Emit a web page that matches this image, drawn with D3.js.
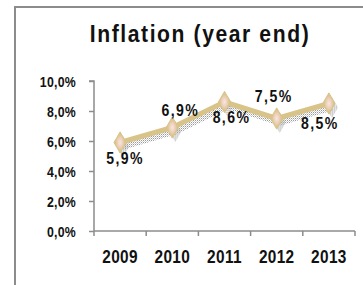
<!DOCTYPE html>
<html>
<head>
<meta charset="utf-8">
<script src="https://cdn.jsdelivr.net/npm/d3@7"></script>
<style>
  body { margin: 0; background: #fff; }
  text { font-family: "Liberation Sans", Arial, sans-serif; font-weight: bold; fill: #111; }
</style>
</head>
<body>
<div class="chart"></div>
<script>
// data
var years = ["2009", "2010", "2011", "2012", "2013"];
var inflation = [5.9, 6.9, 8.6, 7.5, 8.5];
var yTicks = [0, 2, 4, 6, 8, 10];
// label offsets relative to point (dx, dy)
var labelDx = [5, 8, 7, -3, -9];
var labelDy = [21, -12, 21, -17, 25];

var w = 363, h = 285;
var margin = {left: 94, right: 8, top: 81, bottom: 54};
var sx = 0.88; // fake a narrow font

var svg = d3.select(".chart").append("svg")
    .attr("width", w).attr("height", h);

function label(g, px, py, txt, size, spacing) {
    return g.append("text")
        .attr("transform", `translate(${px},${py}) scale(${sx},1)`)
        .attr("text-anchor", "middle")
        .style("font-size", size + "px")
        .style("letter-spacing", spacing + "px")
        .text(txt);
}

// outer frame (only top and left visible)
svg.append("path")
    .attr("d", "M15,285 V7 H363")
    .attr("fill", "none")
    .attr("stroke", "#8c8c8c")
    .attr("stroke-width", 2);

label(svg, 200, 42, "Inflation (year end)", 24, 1.8);

var x = d3.scaleBand().domain(years).range([margin.left, 355]);
var y = d3.scaleLinear().domain([0, 10]).range([231, 81]);

var fmt = function(v){ return d3.format(".1f")(v).replace(".", ",") + "%"; };

// y axis
var yAxis = svg.append("g")
    .attr("transform", `translate(${margin.left},0)`)
    .call(d3.axisLeft(y).tickValues(yTicks).tickSize(5).tickPadding(12).tickFormat(fmt));
yAxis.selectAll("text")
    .attr("transform", `scale(${sx},1)`)
    .attr("x", -18 / sx)
    .attr("dy", "0.36em")
    .style("font-size", "14px")
    .style("letter-spacing", "0.3px");
yAxis.selectAll("line, path").attr("stroke", "#8c8c8c").attr("stroke-width", 1.5);
yAxis.select(".domain").attr("d", `M-5,${y(10)}H0V${y(0)}`);

// x axis with ticks at band edges
var xg = svg.append("g").attr("transform", `translate(0,${y(0)})`);
xg.append("line").attr("x1", margin.left).attr("x2", 355)
    .attr("stroke", "#8c8c8c").attr("stroke-width", 1.5);
var edges = years.map(function(d){ return x(d); }).concat([x.range()[1]]);
xg.selectAll(".tk").data(edges).enter().append("line")
    .attr("x1", d => d).attr("x2", d => d).attr("y1", 0).attr("y2", 5)
    .attr("stroke", "#8c8c8c").attr("stroke-width", 1.5);
years.forEach(function(d){
    label(xg, x(d) + x.bandwidth() / 2, 31.5, d, 17.5, 0.4);
});

var pts = years.map(function(d, i){ return [x(d) + x.bandwidth() / 2, y(inflation[i])]; });
var line = d3.line();

// dotted shadow
var defs = svg.append("defs");
var pat = defs.append("pattern").attr("id", "dots")
    .attr("width", 2).attr("height", 2).attr("patternUnits", "userSpaceOnUse");
pat.append("rect").attr("width", 1).attr("height", 1).attr("fill", "#9a9a9a");
pat.append("rect").attr("x", 1).attr("y", 1).attr("width", 1).attr("height", 1).attr("fill", "#d0d0d0");

var shadow = svg.append("g").attr("transform", "translate(3,4)");
shadow.append("path").attr("d", line(pts))
    .attr("fill", "none").attr("stroke", "url(#dots)").attr("stroke-width", 6);
shadow.selectAll("path.sd").data(pts).enter().append("path")
    .attr("d", d3.symbol().type(d3.symbolDiamond).size(130))
    .attr("transform", d => `translate(${d[0]},${d[1]})`)
    .attr("fill", "url(#dots)");

svg.append("path").attr("d", line(pts))
    .attr("fill", "none").attr("stroke", "#d8c388").attr("stroke-width", 5)
    .attr("stroke-linejoin", "round");

var grad = defs.append("radialGradient").attr("id", "mk");
grad.append("stop").attr("offset", "0%").attr("stop-color", "#f8e6e0");
grad.append("stop").attr("offset", "35%").attr("stop-color", "#f0d4c4");
grad.append("stop").attr("offset", "75%").attr("stop-color", "#dcc48e");
grad.append("stop").attr("offset", "100%").attr("stop-color", "#d8c388");

svg.selectAll("path.mk").data(pts).enter().append("path")
    .attr("d", d3.symbol().type(d3.symbolDiamond).size(130))
    .attr("transform", d => `translate(${d[0]},${d[1]})`)
    .attr("fill", "url(#mk)")
    .attr("stroke", "#d8c388").attr("stroke-width", 1);

pts.forEach(function(d, i){
    label(svg, d[0] + labelDx[i], d[1] + labelDy[i], fmt(inflation[i]), 16, 1.6);
});
</script>
</body>
</html>
